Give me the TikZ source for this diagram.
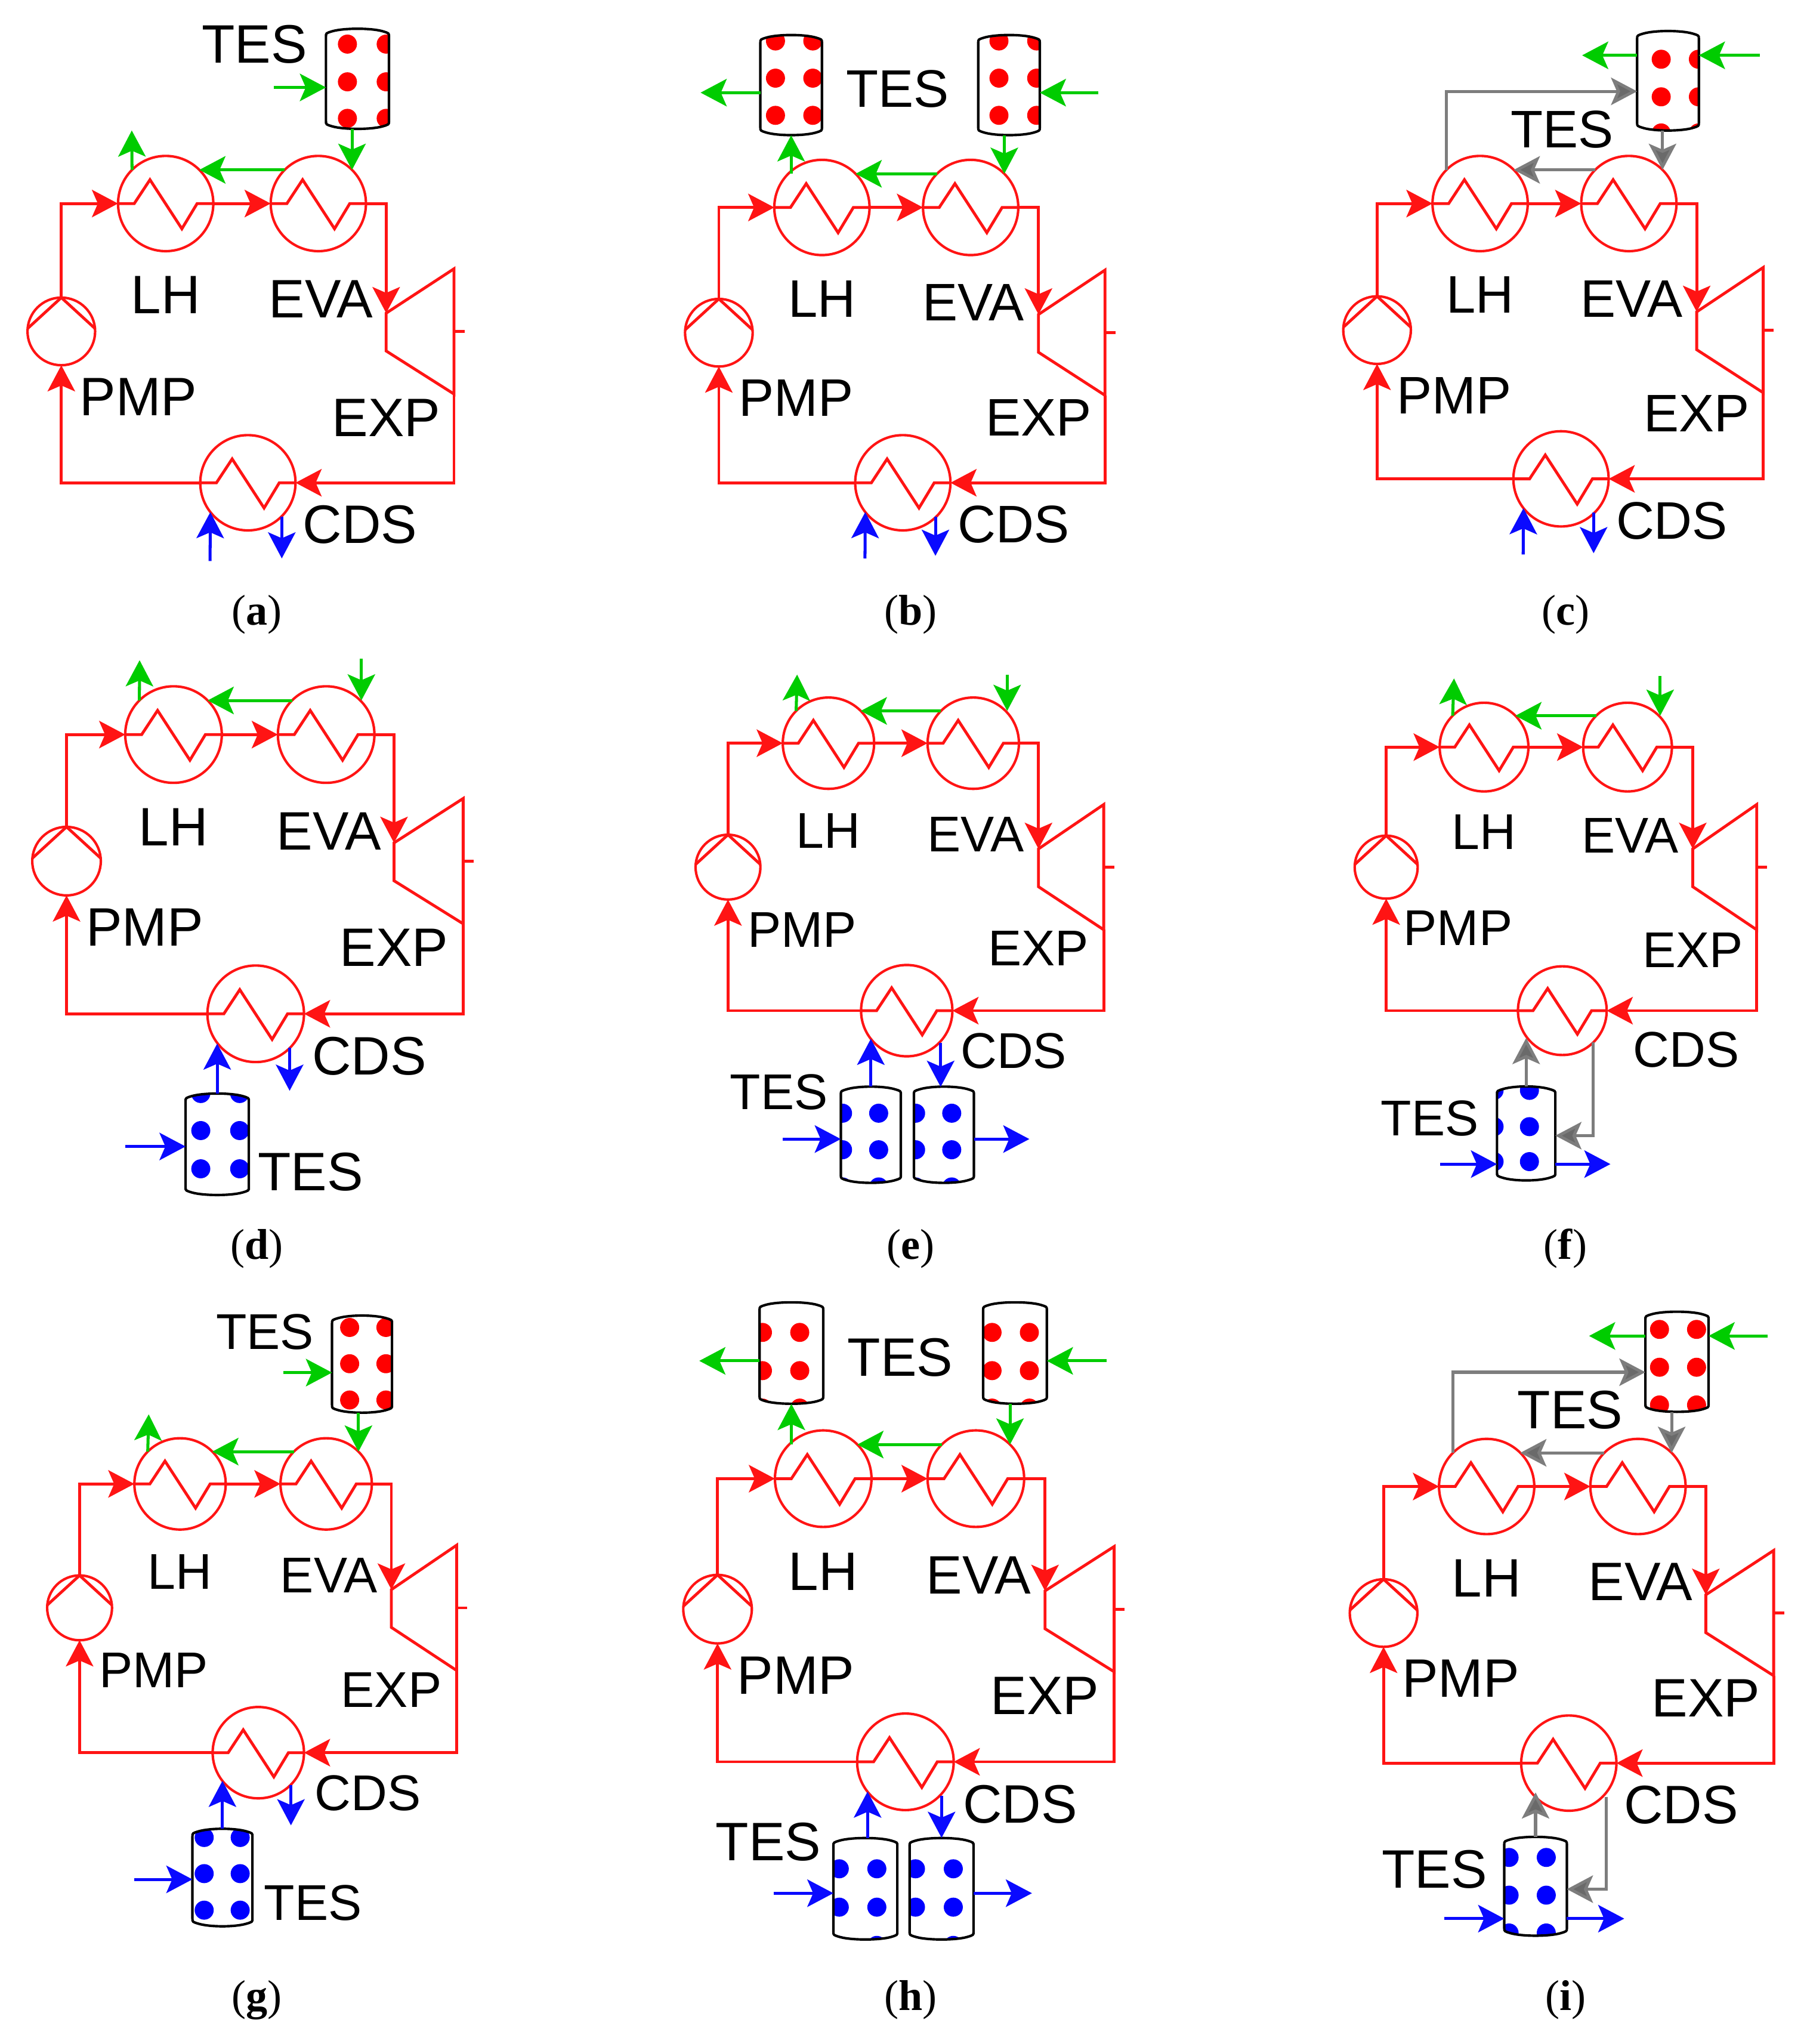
\documentclass[tikz,border=0pt]{standalone}
\usepackage{fontspec}
\setmainfont{Liberation Serif}
\setsansfont{Liberation Sans}
\usetikzlibrary{arrows.meta,calc}

\definecolor{orcred}{RGB}{255,20,20}
\definecolor{srcgreen}{RGB}{0,204,0}
\definecolor{snkblue}{RGB}{10,10,255}
\definecolor{tesgray}{RGB}{125,125,125}

\tikzset{
  hx/.style={circle,draw=orcred,line width=1.9pt,inner sep=0pt,outer sep=0pt,minimum size=2*#1*1pt},
  orc/.style={draw=orcred,line width=2.2pt},
  redflow/.style={orc,-{Stealth[length=20pt,width=21pt,inset=4.5pt]}},
  greenflow/.style={draw=srcgreen,line width=2.3pt,-{Stealth[length=20pt,width=21pt,inset=4.5pt,fill=srcgreen]}},
  blueflow/.style={draw=snkblue,line width=2.3pt,-{Stealth[length=20pt,width=21pt,inset=4.5pt,fill=snkblue]}},
  grayflow/.style={draw=tesgray,line width=2.3pt,-{Stealth[length=20pt,width=21pt,inset=4.5pt,fill=tesgray!85!black]}},
  lbl/.style={font=\sffamily\fontsize{#1}{#1}\selectfont,inner sep=0pt},
  captxt/.style={font=\fontsize{33}{33}\selectfont,inner sep=0pt},
}

% tank: name, x, y, width, height, colour, dot columns, dot rows
\newcommand{\testank}[8]{
  \node[rectangle,inner sep=0pt,outer sep=0pt,minimum width=#4*1pt,minimum height=#5*1pt] (#1) at (#2,#3) {};
  \begin{scope}[shift={(#2,#3)}]
    \pgfmathsetmacro{\tw}{#4/2}
    \pgfmathsetmacro{\thh}{#5/2}
    \def\tankpath{(-\tw,-\thh+6) .. controls (-\tw,-\thh+3.5) .. (-\tw+5,-\thh+2) .. controls (-\tw+14,-\thh-.5) and (\tw-14,-\thh-.5) .. (\tw-5,-\thh+2) .. controls (\tw,-\thh+3.5) .. (\tw,-\thh+6) -- (\tw,\thh-6) .. controls (\tw,\thh-3.5) .. (\tw-5,\thh-2) .. controls (\tw-14,\thh+.5) and (-\tw+14,\thh+.5) .. (-\tw+5,\thh-2) .. controls (-\tw,\thh-3.5) .. (-\tw,\thh-6) -- cycle}
    \begin{scope}
      \clip \tankpath;
      \foreach \dx in {#7} \foreach \dy in {#8} \fill[#6] (\dx,\dy) circle (7.3);
    \end{scope}
    \draw[black,line width=1.9pt] \tankpath;
  \end{scope}
}

\begin{document}
\begin{tikzpicture}[x=1pt,y=-1pt]
\useasboundingbox (0,0) rectangle (1385,1566.6);

% the same ORC loop in all nine panels
\foreach \nm/\xp/\xl/\xe/\xc/\xr/\xt/\yt/\ym/\yb/\ra/\fs/\cdx in {
  a/47/127/244/190/296/348/156/254/370/36.5/41.5/86,
  b/551/630/744/692/796/847/159/255/370/36.5/40.5/85,
  c/1055.5/1134.5/1248.5/1196.5/1300.5/1351.5/156/253/367/36.5/40.5/85,
  d/51/133/250/196/302/355/563/660/777/37/41.5/87,
  e/558/635/746/695/796/846/569.6/664.6/774.6/35/38.5/82,
  f/1062.5/1137.5/1247.5/1197.5/1297.5/1346.5/572.6/664.6/774.6/34/38.5/95,
  g/61/138/250/198/300/350/1137.3/1232.3/1343.3/35/38.5/84,
  h/550/631/748/694/801/854/1133.3/1233.3/1350.3/37/41.5/88,
  i/1060.5/1139.5/1255.5/1202.5/1307.5/1359.5/1139.3/1236.3/1351.3/36.5/41.5/86}{
  \node[hx=\ra] (\nm LH) at (\xl,\yt) {};
  \node[hx=\ra] (\nm EVA) at (\xe,\yt) {};
  \node[hx=\ra] (\nm CDS) at (\xc,\yb) {};
  \node[hx=0.71*\ra] (\nm PMP) at (\xp,\ym) {};
  \draw[orc] (\nm PMP.175) -- (\nm PMP.north) -- (\nm PMP.5);
  \foreach \h in {LH,EVA,CDS}
    \draw[orc] (\nm\h.west) -- ++(.34*\ra,0) -- ++(.33*\ra,-.5*\ra) -- ++(.67*\ra,1.03*\ra) -- ++(.32*\ra,-.53*\ra) -- (\nm\h.east);
  \coordinate (\nm Tin) at (\xr,\ym-14);
  \coordinate (\nm Tout) at (\xt,\ym+48);
  \draw[orc] (\nm Tin) -- (\xt,\ym-48) -- (\nm Tout) -- (\xr,\ym+15) -- cycle;
  \draw[orc] (\xt,\ym) -- ++(8,0);
  \draw[redflow] (\nm PMP.north) |- (\nm LH.west);
  \draw[redflow] (\nm LH.east) -- (\nm EVA.west);
  \draw[redflow] (\nm EVA.east) -| (\nm Tin);
  \draw[redflow] (\nm Tout) |- (\nm CDS.east);
  \draw[redflow] (\nm CDS.west) -| (\nm PMP.south);
  \node[lbl=\fs] (\nm LHt) at (\xl,\yt+1.92*\ra) {LH};
  \node[lbl=\fs] (\nm EVAt) at (\xe+2,\yt+2*\ra) {EVA};
  \node[lbl=\fs] (\nm PMPt) at (\xp+1.62*\ra,\ym+1.37*\ra) {PMP};
  \node[lbl=\fs] (\nm EXPt) at (\xr,\yb-1.37*\ra) {EXP};
  \node[lbl=\fs] (\nm CDSt) at (\xc+\cdx,\yb+.88*\ra) {CDS};
}

% (a)
\testank{aTES}{274}{60.4}{48.3}{77}{red}{-7.7,22}{-26.6,2.3,30.3}
\node[lbl=41.5] (aTESt) at (195,34) {TES};
\coordinate (aIn) at (210,67);
\coordinate (aOut) at (101,100);
\coordinate (aCin) at (161,430);
\coordinate (aCout) at (216,428);
\draw[greenflow] (aIn) -- (aIn -| aTES.west);
\draw[greenflow] (aEVA.45 |- aTES.south) -- (aEVA.45);
\draw[greenflow] (aEVA.135) -- (aLH.45);
\draw[greenflow] (aLH.135) -- (aOut);
\draw[blueflow] (aCin) -- (aCDS.218);
\draw[blueflow] (aCDS.-45 -| aCout) -- (aCout);

% (b)
\testank{bTESl}{606.4}{65.2}{47.2}{77}{red}{-12,16.6}{-33.8,-5.3,23.2}
\testank{bTESr}{773.4}{65.2}{47.2}{77}{red}{-7.7,21.2}{-33.8,-5.3,23.2}
\node[lbl=40.5] (bTESt) at (688,68) {TES};
\coordinate (bOut) at (537,71);
\coordinate (bIn) at (842,71);
\coordinate (bCin) at (663,428);
\coordinate (bCout) at (717,426);
\draw[greenflow] (bOut -| bTESl.west) -- (bOut);
\draw[greenflow] (bIn) -- (bIn -| bTESr.east);
\draw[greenflow] (bLH.135 -| bTESl.south) -- (bTESl.south);
\draw[greenflow] (bEVA.45 |- bTESr.south) -- (bEVA.45);
\draw[greenflow] (bEVA.135) -- (bLH.45);
\draw[blueflow] (bCin) -- (bCDS.218);
\draw[blueflow] (bCDS.-45 -| bCout) -- (bCout);

% (c)
\testank{cTES}{1278.5}{61.9}{47.3}{76.5}{red}{-5.2,23.3}{-16.5,12.3,40}
\node[lbl=40.5] (cTESt) at (1197.5,99) {TES};
\coordinate (cOut) at (1212.7,42.4);
\coordinate (cIn) at (1349,42.4);
\coordinate (cLoop) at (1109.7,70);
\coordinate (cCin) at (1167.5,425);
\coordinate (cCout) at (1221.5,424);
\draw[greenflow] (cOut -| cTES.west) -- (cOut);
\draw[greenflow] (cIn) -- (cIn -| cTES.east);
\draw[grayflow] (cLH.135) |- (cLoop -| cTES.west);
\draw[grayflow] (cEVA.45 |- cTES.south) -- (cEVA.45);
\draw[grayflow] (cEVA.135) -- (cLH.45);
\draw[blueflow] (cCin) -- (cCDS.218);
\draw[blueflow] (cCDS.-45 -| cCout) -- (cCout);

% (d)
\testank{dTES}{166.5}{877}{48.5}{78}{blue}{-12.6,17.2}{-38.9,-10.5,18.8}
\node[lbl=41.5] (dTESt) at (238,898) {TES};
\coordinate (dIn) at (96,878.7);
\coordinate (dOut) at (107,506);
\coordinate (dEin) at (277,505);
\coordinate (dCout) at (222,836);
\draw[greenflow] (dLH.135) -- (dOut);
\draw[greenflow] (dEin) -- (dEin |- dEVA.45);
\draw[greenflow] (dEVA.135) -- (dLH.45);
\draw[blueflow] (dIn) -- (dIn -| dTES.west);
\draw[blueflow] (dTES.north) -- (dTES.north |- dCDS.218);
\draw[blueflow] (dCDS.-45 -| dCout) -- (dCout);

% (e)
\testank{eTESl}{667.5}{869.7}{46}{74}{blue}{-21.7,6}{-16.5,11.5,40}
\testank{eTESr}{723.5}{869.7}{46}{74}{blue}{-21.7,6}{-16.5,11.5,40}
\node[lbl=38.5] (eTESt) at (597,837) {TES};
\coordinate (eIn) at (600,873);
\coordinate (eOut) at (789,873);
\coordinate (eLout) at (611,517);
\coordinate (eEin) at (772,517);
\coordinate (eCout) at (721,833);
\draw[greenflow] (eLH.135) -- (eLout);
\draw[greenflow] (eEin) -- (eEin |- eEVA.45);
\draw[greenflow] (eEVA.135) -- (eLH.45);
\draw[blueflow] (eIn) -- (eIn -| eTESl.west);
\draw[blueflow] (eOut -| eTESr.east) -- (eOut);
\draw[blueflow] (eTESl.north) -- (eTESl.north |- eCDS.218);
\draw[blueflow] (eCDS.-45 -| eCout) -- (eCout);

% (f)
\testank{fTES}{1169.8}{868.7}{44.7}{72.3}{blue}{-24.6,2.5}{-33,-5.2,21.6}
\node[lbl=38.5] (fTESt) at (1096,857) {TES};
\coordinate (fIn) at (1104,892.2);
\coordinate (fOut) at (1234.4,892.2);
\coordinate (fLout) at (1114.5,520);
\coordinate (fEin) at (1272.5,518);
\coordinate (fBack) at (1221.1,870.4);
\draw[greenflow] (fLH.135) -- (fLout);
\draw[greenflow] (fEin) -- (fEin |- fEVA.45);
\draw[greenflow] (fEVA.135) -- (fLH.45);
\draw[blueflow] (fIn) -- (fIn -| fTES.west);
\draw[blueflow] (fOut -| fTES.east) -- (fOut);
\draw[grayflow] (fTES.north) -- (fTES.north |- fCDS.218);
\draw[grayflow] (fBack |- fCDS.-45) -- (fBack) -- (fBack -| fTES.east);

% (g)
\testank{gTESu}{277.5}{1045.5}{46}{74.7}{red}{-9.5,18.3}{-28.1,-.3,27.5}
\testank{gTESd}{170.5}{1439}{46}{75}{blue}{-14,13.6}{-30.7,-3,25}
\node[lbl=38.5] (gTESut) at (203,1021) {TES};
\node[lbl=38.5] (gTESdt) at (240,1458.5) {TES};
\coordinate (gIn) at (217,1052);
\coordinate (gOut) at (114,1084);
\coordinate (gCin) at (103,1440.4);
\coordinate (gCout) at (223,1399);
\draw[greenflow] (gIn) -- (gIn -| gTESu.west);
\draw[greenflow] (gEVA.45 |- gTESu.south) -- (gEVA.45);
\draw[greenflow] (gEVA.135) -- (gLH.45);
\draw[greenflow] (gLH.135) -- (gOut);
\draw[blueflow] (gCin) -- (gCin -| gTESd.west);
\draw[blueflow] (gTESd.north) -- (gTESd.north |- gCDS.218);
\draw[blueflow] (gCDS.-45 -| gCout) -- (gCout);

% (h)
\testank{hTESa}{606.6}{1037}{48.8}{78}{red}{-22.2,6.4}{-15.8,13.5,42.2}
\testank{hTESb}{778}{1037}{48.8}{78}{red}{-17.6,11}{-15.8,13.5,42.2}
\testank{hTESc}{663.3}{1447.6}{49}{78}{blue}{-20,8.8}{-15.3,14.1,43.4}
\testank{hTESd}{721.7}{1447.6}{49}{78}{blue}{-20,9}{-15.3,14.1,43.4}
\node[lbl=41.5] (hTESut) at (690,1040.5) {TES};
\node[lbl=41.5] (hTESdt) at (589,1411.5) {TES};
\coordinate (hOut) at (536,1043);
\coordinate (hIn) at (848,1043);
\coordinate (hCin) at (593,1451);
\coordinate (hCout) at (791,1451);
\draw[greenflow] (hOut -| hTESa.west) -- (hOut);
\draw[greenflow] (hIn) -- (hIn -| hTESb.east);
\draw[greenflow] (hLH.135 -| hTESa.south) -- (hTESa.south);
\draw[greenflow] (hEVA.45 |- hTESb.south) -- (hEVA.45);
\draw[greenflow] (hEVA.135) -- (hLH.45);
\draw[blueflow] (hCin) -- (hCin -| hTESc.west);
\draw[blueflow] (hCout -| hTESd.east) -- (hCout);
\draw[blueflow] ([xshift=1.7pt]hTESc.north) -- ([xshift=1.7pt]hTESc.north |- hCDS.218);
\draw[blueflow] (hCDS.-45 -| hTESd.north) -- (hTESd.north);

% (i)
\testank{iTESu}{1285.4}{1043.7}{48.4}{77}{red}{-13.4,15}{-24.8,4.2,33.1}
\testank{iTESd}{1177}{1445.7}{48}{76}{blue}{-20.3,8.2}{-22.1,6.8,35.8}
\node[lbl=41.5] (iTESut) at (1203.5,1080.5) {TES};
\node[lbl=41.5] (iTESdt) at (1099.5,1432.5) {TES};
\coordinate (iOut) at (1218,1023.9);
\coordinate (iIn) at (1355,1023.9);
\coordinate (iLoop) at (1115,1051.7);
\coordinate (iCin) at (1107,1470.5);
\coordinate (iCout) at (1245,1470.5);
\coordinate (iBack) at (1231,1447.9);
\draw[greenflow] (iOut -| iTESu.west) -- (iOut);
\draw[greenflow] (iIn) -- (iIn -| iTESu.east);
\draw[grayflow] (iLH.135) |- (iLoop -| iTESu.west);
\draw[grayflow] (iEVA.45 |- iTESu.south) -- (iEVA.45);
\draw[grayflow] (iEVA.135) -- (iLH.45);
\draw[blueflow] (iCin) -- (iCin -| iTESd.west);
\draw[blueflow] (iCout -| iTESd.east) -- (iCout);
\draw[grayflow] (iTESd.north) -- (iTESd.north |- iCDS.218);
\draw[grayflow] (iBack |- iCDS.-45) -- (iBack) -- (iBack -| iTESd.east);

% captions
\foreach \nm/\cx/\cy in {a/197/471,b/698/471,c/1200/471,d/197/957,e/698/957,f/1200/957,g/197/1533,h/698/1533,i/1200/1533}
  \node[captxt] (\nm Cap) at (\cx,\cy) {(\textbf{\nm})};
\end{tikzpicture}
\end{document}
